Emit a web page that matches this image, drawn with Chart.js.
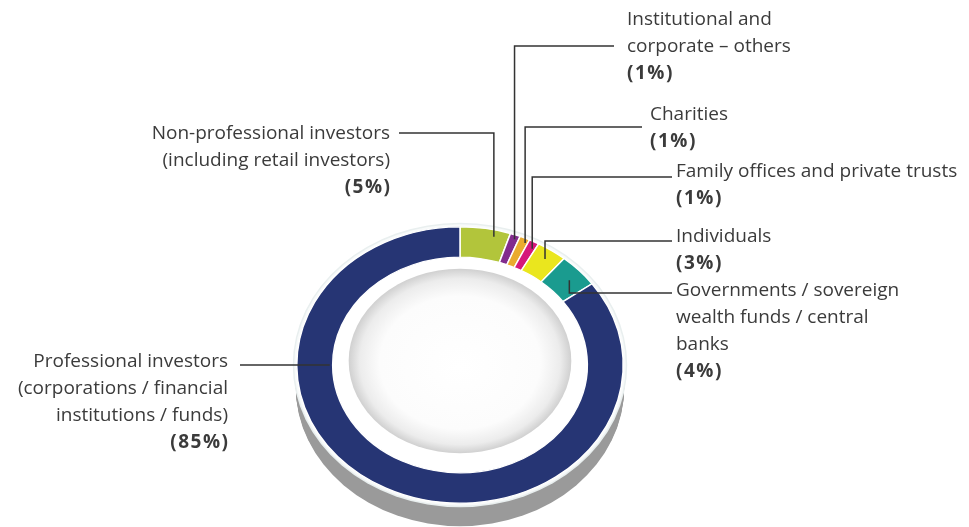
<!DOCTYPE html>
<html>
<head>
<meta charset="utf-8">
<script src="https://cdn.jsdelivr.net/npm/chart.js@4.4.1/dist/chart.umd.min.js"></script>
<style>
  html, body { margin: 0; padding: 0; background: #fff; }
  canvas { display: block; }
</style>
</head>
<body>
<canvas id="investorChart" width="969" height="527"></canvas>
<script>
// slices run clockwise from twelve o'clock
const categories = [
  "Non-professional investors (including retail investors)",
  "Institutional and corporate – others",
  "Charities",
  "Family offices and private trusts",
  "Individuals",
  "Governments / sovereign wealth funds / central banks",
  "Professional investors (corporations / financial institutions / funds)"
];
const shares = [5, 1, 1, 1, 3, 4, 85];
const colors = ["#b2c53b", "#822c8e", "#eaab2e", "#d5187a", "#eae61e", "#1a9b8f", "#263574"];

// label text per slice; the bold percentage is added below it
const labelLines = [
  ["Non-professional investors", "(including retail investors)"],
  ["Institutional and", "corporate – others"],
  ["Charities"],
  ["Family offices and private trusts"],
  ["Individuals"],
  ["Governments / sovereign", "wealth funds / central", "banks"],
  ["Professional investors", "(corporations / financial", "institutions / funds)"]
];

// where each label sits and how its leader runs
// along: 0..1 position inside the slice, depth: px in from the outer edge
const labelLayout = [
  { x: 390, y: 134, align: "right", lineEnd: 399, elbowY: 133, along: 0.7, depth: 8 },
  { x: 627, y: 20, align: "left", lineEnd: 614, elbowY: 46, along: 0.6, depth: 5 },
  { x: 650, y: 115, align: "left", lineEnd: 642, elbowY: 127, along: 0.75, depth: 5 },
  { x: 676, y: 172, align: "left", lineEnd: 672, elbowY: 177, along: 0.7, depth: 8 },
  { x: 676, y: 237, align: "left", lineEnd: 672, elbowY: 241, along: 0.5, depth: 12 },
  { x: 676, y: 291, align: "left", lineEnd: 672, elbowY: 293, along: 0.55, depth: 15 },
  { x: 228, y: 362, align: "right", lineEnd: 240, elbowY: null, along: 0.706, depth: 33 }
];

const CENTER_Y = 365;      // on-screen centre of the ring
const TILT = 138 / 163;    // vertical squash for the tilted look
const EXTRUDE = 22;        // depth of the grey base
const LINE_GAP = 26.7;
const FONT = '"Open Sans", sans-serif';

function toScreen(arc, px, py) {
  return { x: px, y: CENTER_Y + (py - arc.y) * TILT };
}

function ellipse(ctx, cx, cy, rx, ry) {
  ctx.beginPath();
  ctx.ellipse(cx, cy, rx, ry, 0, 0, Math.PI * 2);
}

const tiltedRing = {
  id: "tiltedRing",
  beforeDatasetsDraw(chart) {
    const ctx = chart.ctx;
    const arc = chart.getDatasetMeta(0).data[0];
    const rx = arc.outerRadius;
    const ry = rx * TILT;
    const cx = arc.x;

    ctx.save();
    // grey base under the ring
    ctx.fillStyle = "#9a9a9a";
    for (let i = 0; i <= EXTRUDE; i++) {
      ellipse(ctx, cx, CENTER_Y + i, rx + 1, ry + 1);
      ctx.fill();
    }
    // pale rim round the top face
    ctx.fillStyle = "#e9efef";
    ellipse(ctx, cx, CENTER_Y, rx + 4, ry + 4);
    ctx.fill();
    ctx.fillStyle = "#f8fafa";
    ellipse(ctx, cx, CENTER_Y, rx + 2.5, ry + 2.5);
    ctx.fill();
    // white inside the ring
    ctx.fillStyle = "#ffffff";
    ellipse(ctx, cx, CENTER_Y, arc.innerRadius + 1, (arc.innerRadius + 1) * TILT);
    ctx.fill();
    ctx.restore();

    // squash the slices into an ellipse
    ctx.save();
    ctx.translate(0, CENTER_Y);
    ctx.scale(1, TILT);
    ctx.translate(0, -arc.y);
  },
  afterDatasetsDraw(chart) {
    const ctx = chart.ctx;
    ctx.restore();
    const meta = chart.getDatasetMeta(0);
    const arc = meta.data[0];
    const cx = arc.x;

    // shaded plate in the middle
    const pr = arc.innerRadius - 16;
    ctx.save();
    ctx.translate(cx, CENTER_Y - 4);
    ctx.scale(1, 92 / 111);
    const grad = ctx.createRadialGradient(0, 7, 0, 0, 0, pr);
    grad.addColorStop(0, "#ffffff");
    grad.addColorStop(0.72, "#fcfcfc");
    grad.addColorStop(0.9, "#ececec");
    grad.addColorStop(1, "#d0d0d0");
    ctx.fillStyle = grad;
    ctx.beginPath();
    ctx.arc(0, 0, pr, 0, Math.PI * 2);
    ctx.fill();
    ctx.restore();

    // leaders and labels
    ctx.save();
    ctx.strokeStyle = "#333333";
    ctx.lineWidth = 1.5;
    ctx.textBaseline = "middle";
    meta.data.forEach((el, i) => {
      const lay = labelLayout[i];
      const a = el.startAngle + (el.endAngle - el.startAngle) * lay.along;
      const r = el.outerRadius - lay.depth;
      const p = toScreen(el, el.x + r * Math.cos(a), el.y + r * Math.sin(a));
      const ey = lay.elbowY === null ? p.y : lay.elbowY;

      ctx.beginPath();
      ctx.moveTo(lay.lineEnd, ey);
      ctx.lineTo(p.x, ey);
      ctx.lineTo(p.x, p.y);
      ctx.stroke();

      ctx.textAlign = lay.align;
      ctx.fillStyle = "#3b3b3b";
      ctx.font = "19px " + FONT;
      ctx.letterSpacing = "0px";
      const lines = labelLines[i];
      lines.forEach((t, j) => ctx.fillText(t, lay.x, lay.y + j * LINE_GAP));
      ctx.font = "bold 19px " + FONT;
      ctx.letterSpacing = "1.5px";
      const pct = "(" + shares[i] + "%)";
      const shift = lay.align === "right" ? 1.5 : 0;
      ctx.fillText(pct, lay.x + shift, lay.y + lines.length * LINE_GAP);
    });
    ctx.restore();
  }
};

new Chart(document.getElementById("investorChart"), {
  type: "doughnut",
  data: {
    labels: categories,
    datasets: [
      {
        data: shares,
        backgroundColor: colors,
        borderColor: "#ffffff",
        borderWidth: 1.5,
      },
    ],
  },
  options: {
    responsive: false,
    animation: false,
    cutout: "78%",
    layout: {
      padding: { left: 296, right: 345, top: 170, bottom: 29 },
    },
    plugins: {
      legend: { display: false },
      tooltip: { enabled: false },
    },
  },
  plugins: [tiltedRing],
});
</script>
</body>
</html>
